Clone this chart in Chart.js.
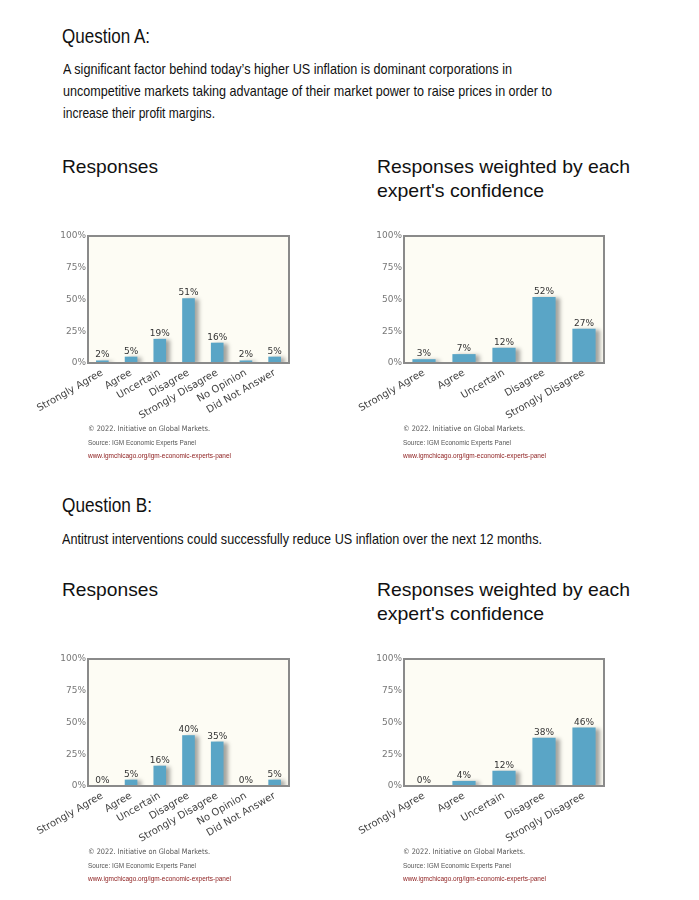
<!DOCTYPE html>
<html>
<head>
<meta charset="utf-8">
<script src="https://cdn.jsdelivr.net/npm/chart.js@4"></script>
<style>
  body { margin: 0; background: #fff; width: 699px; height: 900px; position: relative; overflow: hidden; }
  .t { position: absolute; white-space: nowrap; line-height: 1; transform-origin: 0 0; font-family: "Liberation Sans", Arial, sans-serif; color: #111; }
  .f1 { font-family: "DejaVu Sans", sans-serif; font-size: 7.5px; color: #555; }
  .f2 { font-size: 7px; color: #555; }
  .f3 { font-size: 7px; color: #8b1a1a; }
  canvas { position: absolute; }
</style>
</head>
<body>
<div class="t" style="left:62px;top:26px;font-size:20px" data-w="88">Question A:</div>
<div class="t" style="left:63px;top:61.3px;font-size:15px" data-w="449">A significant factor behind today’s higher US inflation is dominant corporations in</div>
<div class="t" style="left:63px;top:83px;font-size:15px" data-w="489">uncompetitive markets taking advantage of their market power to raise prices in order to</div>
<div class="t" style="left:63px;top:104.6px;font-size:15px" data-w="152">increase their profit margins.</div>

<div class="t" style="left:62px;top:157.6px;font-size:18.5px" data-w="96">Responses</div>
<div class="t" style="left:377px;top:157.6px;font-size:18.5px" data-w="253">Responses weighted by each</div>
<div class="t" style="left:377px;top:181.6px;font-size:18.5px" data-w="167">expert's confidence</div>

<div class="t" style="left:62px;top:494.6px;font-size:20px" data-w="90">Question B:</div>
<div class="t" style="left:62px;top:530.6px;font-size:15px" data-w="480">Antitrust interventions could successfully reduce US inflation over the next 12 months.</div>

<div class="t" style="left:62px;top:580.6px;font-size:18.5px" data-w="96">Responses</div>
<div class="t" style="left:377px;top:580.6px;font-size:18.5px" data-w="253">Responses weighted by each</div>
<div class="t" style="left:377px;top:604.6px;font-size:18.5px" data-w="167">expert's confidence</div>

<canvas id="qa1" width="300" height="200" style="left:0;top:225px"></canvas>
<canvas id="qa2" width="300" height="200" style="left:315px;top:225px"></canvas>
<canvas id="qb1" width="300" height="200" style="left:0;top:648px"></canvas>
<canvas id="qb2" width="300" height="200" style="left:315px;top:648px"></canvas>

<div id="footers"></div>

<script>
const catsFull = ['Strongly Agree', 'Agree', 'Uncertain', 'Disagree', 'Strongly Disagree', 'No Opinion', 'Did Not Answer'];
const catsWeighted = ['Strongly Agree', 'Agree', 'Uncertain', 'Disagree', 'Strongly Disagree'];
const yTicks = [0, 25, 50, 75, 100];

const qaResponses = [2, 5, 19, 51, 16, 2, 5];
const qaWeighted = [3, 7, 12, 52, 27];
const qbResponses = [0, 5, 16, 40, 35, 0, 5];
const qbWeighted = [0, 4, 12, 38, 46];

const footerLines = ['© 2022. Initiative on Global Markets.', 'Source: IGM Economic Experts Panel', 'www.igmchicago.org/igm-economic-experts-panel'];

Chart.defaults.font.family = 'DejaVu Sans';

// cream plot background + grey frame
var framePlugin = {
  id: 'frame',
  beforeDatasetsDraw(chart) {
    var a = chart.chartArea, ctx = chart.ctx
    ctx.save()
    ctx.fillStyle = '#fdfcf4'
    ctx.fillRect(a.left, a.top, a.width, a.height)
    ctx.restore()
  },
  afterDatasetsDraw(chart) {
    var a = chart.chartArea, ctx = chart.ctx
    ctx.save()
    ctx.strokeStyle = '#8a8a8a'
    ctx.lineWidth = 2
    ctx.strokeRect(a.left, a.top, a.width, a.height)
    ctx.restore()
  }
}

// soft drop shadow to the right of the bars
var shadowPlugin = {
  id: 'barShadow',
  beforeDatasetDraw(chart) {
    var ctx = chart.ctx
    ctx.save()
    ctx.shadowColor = 'rgba(0,0,0,0.35)'
    ctx.shadowBlur = 4
    ctx.shadowOffsetX = 4
    ctx.shadowOffsetY = 1
  },
  afterDatasetDraw(chart) {
    chart.ctx.restore()
  }
}

// percent labels above bars
var valuePlugin = {
  id: 'values',
  afterDatasetsDraw(chart) {
    var ctx = chart.ctx
    var meta = chart.getDatasetMeta(0)
    var vals = chart.data.datasets[0].data
    ctx.save()
    ctx.fillStyle = '#333'
    ctx.font = '9px "DejaVu Sans"'
    ctx.textAlign = 'center'
    ctx.textBaseline = 'alphabetic'
    meta.data.forEach(function(bar, i) {
      ctx.fillText(vals[i] + '%', bar.x, bar.y - 3)
    })
    ctx.restore()
  }
}

function makeChart(id, labels, values, barFrac, yWidth) {
  var ctx = document.getElementById(id).getContext('2d')
  return new Chart(ctx, {
    type: 'bar',
    data: {
      labels: labels,
      datasets: [{
        data: values,
        backgroundColor: '#5aa5c6',
        borderWidth: 0,
        barPercentage: barFrac,
        categoryPercentage: 1
      }]
    },
    options: {
      responsive: false,
      animation: false,
      layout: { padding: { top: 11, right: 11, left: 0, bottom: 0 } },
      plugins: { legend: { display: false }, tooltip: { enabled: false } },
      scales: {
        x: {
          grid: { display: false, drawTicks: false },
          border: { display: false },
          ticks: {
            color: '#444',
            font: { size: 10 },
            maxRotation: 30,
            minRotation: 30,
            autoSkip: false,
            padding: 4
          },
          afterFit: function(s) { s.height = 62 }
        },
        y: {
          min: 0,
          max: 100,
          grid: { display: false, drawTicks: false },
          border: { display: false },
          ticks: {
            color: '#777',
            font: { size: 9 },
            padding: 2,
            callback: function(v) { return v + '%' }
          },
          afterBuildTicks: function(s) { s.ticks = yTicks.map(function(v) { return { value: v } }) },
          afterFit: function(s) { s.width = yWidth }
        }
      }
    },
    plugins: [framePlugin, shadowPlugin, valuePlugin]
  })
}

makeChart('qa1', catsFull, qaResponses, 0.44, 88)
makeChart('qa2', catsWeighted, qaWeighted, 0.58, 89)
makeChart('qb1', catsFull, qbResponses, 0.44, 88)
makeChart('qb2', catsWeighted, qbWeighted, 0.58, 89)

// footers under each chart
var footerSpots = [[88, 0], [403, 0], [88, 423], [403, 423]]
var footerTops = [424.5, 438.6, 452.1]
var footerWidths = [122, 108, 143]
var holder = document.getElementById('footers')
footerSpots.forEach(function(p) {
  footerLines.forEach(function(txt, i) {
    var d = document.createElement('div')
    d.className = 't f' + (i + 1)
    d.style.left = p[0] + 'px'
    d.style.top = (footerTops[i] + p[1]) + 'px'
    d.setAttribute('data-w', footerWidths[i])
    d.textContent = txt
    holder.appendChild(d)
  })
})

// squeeze each text line to the width it has in the picture
document.querySelectorAll('[data-w]').forEach(function(el) {
  var w = el.getBoundingClientRect().width
  el.style.transform = 'scaleX(' + (parseFloat(el.getAttribute('data-w')) / w) + ')'
})
</script>
</body>
</html>
